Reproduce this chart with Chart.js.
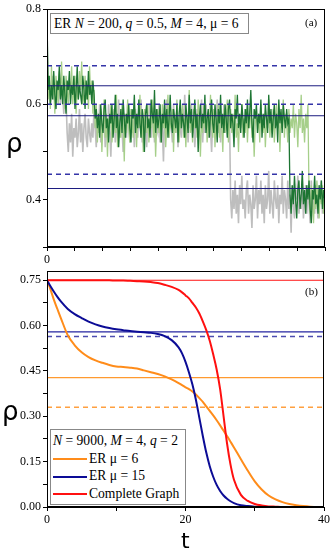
<!DOCTYPE html>
<html>
<head>
<meta charset="utf-8">
<script src="https://cdn.jsdelivr.net/npm/chart.js@4"></script>
<style>
  body { margin: 0; background: #fff; }
  #wrap { position: relative; width: 332px; height: 555px; overflow: hidden; font-family: 'Liberation Serif', serif; }
  canvas { position: absolute; left: 0; }
  .box { position: absolute; background: #fff; border: 1px solid #888; box-sizing: border-box; font-size: 13.6px; color: #000; }
  .lbl { position: absolute; font-size: 11px; color: #000; }
  .axt { position: absolute; font-family: 'DejaVu Sans', sans-serif; color: #000; }
  .row { height: 17.5px; line-height: 17.5px; white-space: nowrap; }
  .sw { display: inline-block; width: 34px; height: 2px; vertical-align: middle; margin: 0 2px 0 2px; }
</style>
</head>
<body>
<div id="wrap">
  <canvas id="chart_a" width="332" height="275" style="top:0"></canvas>
  <canvas id="chart_b" width="332" height="293" style="top:262px"></canvas>

  <div class="box" style="left:50px;top:13px;width:199px;height:21px;line-height:19px;padding-left:3px">ER <i>N</i> = 200, <i>q</i> = 0.5, <i>M</i> = 4, μ = 6</div>
  <div class="lbl" style="left:305px;top:16px">(a)</div>
  <div class="lbl" style="left:305px;top:285px">(b)</div>

  <div class="box" style="left:50px;top:429px;width:136px;height:76px;padding-top:2px">
    <div class="row" style="padding-left:2px"><i>N</i> = 9000, <i>M</i> = 4, <i>q</i> = 2</div>
    <div class="row"><span class="sw" style="background:#ff8c1a"></span>ER μ = 6</div>
    <div class="row"><span class="sw" style="background:#0c0c96"></span>ER μ = 15</div>
    <div class="row"><span class="sw" style="background:#ff1010"></span>Complete Graph</div>
  </div>

  <div class="axt" style="left:6px;top:128px;font-size:26px">ρ</div>
  <div class="axt" style="left:2px;top:396px;font-size:26px">ρ</div>
  <div class="axt" style="left:181px;top:528px;font-size:22px">t</div>
</div>

<script>
//--------------------------------------------------------------------------------
//--- Panel (a): ER N = 200 time series, one sample every 40 steps
//--------------------------------------------------------------------------------

var sampleStep = 40;

var darkGreen = [
    0.79, 0.63, 0.66, 0.60, 0.64, 0.61, 0.67, 0.62, 0.59, 0.65,
    0.63, 0.68, 0.61, 0.64, 0.60, 0.66, 0.62, 0.58, 0.65, 0.63,
    0.67, 0.60, 0.64, 0.62, 0.66, 0.59, 0.63, 0.68, 0.61, 0.64,
    0.62, 0.60, 0.66, 0.63, 0.59, 0.65, 0.61, 0.67, 0.62, 0.64,
    0.60, 0.65, 0.62, 0.57, 0.59, 0.55, 0.58, 0.53, 0.60, 0.56,
    0.54, 0.59, 0.61, 0.55, 0.57, 0.52, 0.58, 0.56, 0.60, 0.53,
    0.57, 0.62, 0.55, 0.58, 0.51, 0.56, 0.59, 0.54, 0.61, 0.57,
    0.53, 0.58, 0.56, 0.60, 0.55, 0.52, 0.59, 0.57, 0.62, 0.54,
    0.58, 0.55, 0.61, 0.56, 0.53, 0.59, 0.57, 0.50, 0.58, 0.60,
    0.55, 0.57, 0.53, 0.61, 0.58, 0.56, 0.63, 0.54, 0.59, 0.55,
    0.57, 0.60, 0.52, 0.58, 0.56, 0.61, 0.55, 0.59, 0.53, 0.57,
    0.62, 0.56, 0.54, 0.59, 0.57, 0.55, 0.60, 0.52, 0.58, 0.61,
    0.55, 0.58, 0.56, 0.53, 0.60, 0.57, 0.54, 0.62, 0.56, 0.59,
    0.53, 0.57, 0.61, 0.55, 0.58, 0.50, 0.57, 0.60, 0.55, 0.58,
    0.56, 0.62, 0.54, 0.57, 0.59, 0.53, 0.58, 0.61, 0.56, 0.54,
    0.60, 0.57, 0.52, 0.59, 0.56, 0.62, 0.55, 0.58, 0.54, 0.60,
    0.57, 0.53, 0.59, 0.61, 0.55, 0.58, 0.56, 0.51, 0.59, 0.57,
    0.62, 0.55, 0.58, 0.54, 0.60, 0.57, 0.53, 0.59, 0.56, 0.61,
    0.55, 0.58, 0.63, 0.56, 0.52, 0.59, 0.57, 0.60, 0.54, 0.58,
    0.56, 0.61, 0.53, 0.58, 0.55, 0.60, 0.57, 0.54, 0.62, 0.56,
    0.59, 0.53, 0.57, 0.60, 0.55, 0.58, 0.52, 0.61, 0.56, 0.59,
    0.54, 0.60, 0.57, 0.55, 0.59, 0.56, 0.57, 0.41, 0.37, 0.43,
    0.39, 0.45, 0.40, 0.36, 0.42, 0.44, 0.38, 0.41, 0.46, 0.39,
    0.42, 0.37, 0.43, 0.40, 0.44, 0.38, 0.35, 0.42, 0.40, 0.45,
    0.39, 0.41, 0.37, 0.43, 0.40, 0.44, 0.38, 0.42, 0.40];

var lightGreen = [
    0.75, 0.61, 0.65, 0.59, 0.68, 0.62, 0.64, 0.58, 0.66, 0.63,
    0.60, 0.67, 0.62, 0.69, 0.61, 0.64, 0.59, 0.66, 0.63, 0.60,
    0.65, 0.62, 0.68, 0.60, 0.63, 0.66, 0.58, 0.64, 0.61, 0.67,
    0.63, 0.69, 0.60, 0.62, 0.66, 0.61, 0.64, 0.59, 0.68, 0.62,
    0.65, 0.58, 0.63, 0.55, 0.60, 0.52, 0.57, 0.54, 0.59, 0.50,
    0.56, 0.61, 0.53, 0.58, 0.49, 0.57, 0.55, 0.60, 0.52, 0.56,
    0.59, 0.54, 0.62, 0.51, 0.57, 0.55, 0.53, 0.60, 0.56, 0.48,
    0.58, 0.54, 0.61, 0.55, 0.52, 0.59, 0.56, 0.53, 0.60, 0.57,
    0.51, 0.58, 0.55, 0.62, 0.53, 0.57, 0.50, 0.59, 0.56, 0.54,
    0.60, 0.52, 0.57, 0.55, 0.61, 0.53, 0.58, 0.49, 0.56, 0.59,
    0.54, 0.57, 0.52, 0.60, 0.55, 0.58, 0.51, 0.56, 0.62, 0.53,
    0.57, 0.55, 0.59, 0.50, 0.58, 0.54, 0.61, 0.56, 0.52, 0.59,
    0.55, 0.60, 0.53, 0.57, 0.51, 0.58, 0.56, 0.63, 0.54, 0.57,
    0.52, 0.59, 0.55, 0.58, 0.53, 0.61, 0.56, 0.49, 0.57, 0.54,
    0.60, 0.55, 0.58, 0.52, 0.57, 0.54, 0.62, 0.56, 0.53, 0.59,
    0.51, 0.57, 0.55, 0.60, 0.53, 0.58, 0.56, 0.50, 0.59, 0.54,
    0.57, 0.61, 0.52, 0.56, 0.59, 0.54, 0.58, 0.55, 0.62, 0.53,
    0.56, 0.50, 0.58, 0.55, 0.60, 0.53, 0.57, 0.54, 0.59, 0.52,
    0.58, 0.55, 0.61, 0.53, 0.57, 0.49, 0.56, 0.59, 0.54, 0.58,
    0.52, 0.60, 0.56, 0.54, 0.58, 0.51, 0.57, 0.55, 0.61, 0.53,
    0.57, 0.54, 0.59, 0.52, 0.56, 0.60, 0.55, 0.58, 0.50, 0.57,
    0.55, 0.61, 0.53, 0.58, 0.56, 0.52, 0.59, 0.54, 0.57, 0.55,
    0.60, 0.53, 0.58, 0.56, 0.51, 0.59, 0.55, 0.62, 0.54, 0.57,
    0.52, 0.58, 0.55, 0.60, 0.41, 0.37, 0.43, 0.39, 0.35, 0.42,
    0.38, 0.44, 0.40, 0.36, 0.42, 0.39, 0.43, 0.37, 0.41];

var grayRun = [
    0.75, 0.62, 0.65, 0.60, 0.63, 0.66, 0.61, 0.64, 0.59, 0.63,
    0.61, 0.65, 0.60, 0.64, 0.62, 0.58, 0.63, 0.61, 0.54, 0.50,
    0.56, 0.52, 0.58, 0.49, 0.55, 0.53, 0.57, 0.51, 0.54, 0.59,
    0.52, 0.56, 0.50, 0.55, 0.58, 0.53, 0.51, 0.57, 0.54, 0.52,
    0.56, 0.53, 0.59, 0.55, 0.51, 0.57, 0.54, 0.60, 0.52, 0.56,
    0.54, 0.58, 0.51, 0.56, 0.53, 0.60, 0.55, 0.49, 0.57, 0.54,
    0.59, 0.52, 0.56, 0.54, 0.61, 0.53, 0.57, 0.55, 0.50, 0.58,
    0.55, 0.53, 0.60, 0.56, 0.52, 0.58, 0.54, 0.57, 0.51, 0.59,
    0.56, 0.53, 0.58, 0.55, 0.61, 0.52, 0.57, 0.54, 0.59, 0.51,
    0.57, 0.55, 0.60, 0.53, 0.56, 0.58, 0.52, 0.59, 0.55, 0.54,
    0.60, 0.52, 0.57, 0.55, 0.48, 0.58, 0.54, 0.61, 0.56, 0.53,
    0.58, 0.55, 0.52, 0.60, 0.56, 0.54, 0.59, 0.51, 0.57, 0.55,
    0.53, 0.59, 0.56, 0.62, 0.54, 0.57, 0.52, 0.58, 0.55, 0.60,
    0.54, 0.57, 0.51, 0.56, 0.59, 0.53, 0.58, 0.55, 0.61, 0.52,
    0.57, 0.54, 0.60, 0.56, 0.53, 0.58, 0.55, 0.50, 0.57, 0.59,
    0.53, 0.56, 0.61, 0.54, 0.58, 0.52, 0.57, 0.55, 0.60, 0.54,
    0.56, 0.59, 0.53, 0.57, 0.40, 0.36, 0.42, 0.38, 0.44, 0.37,
    0.41, 0.35, 0.43, 0.39, 0.45, 0.38, 0.40, 0.36, 0.42, 0.44,
    0.37, 0.41, 0.39, 0.34, 0.43, 0.38, 0.40, 0.45, 0.36, 0.42,
    0.39, 0.44, 0.37, 0.41, 0.35, 0.43, 0.38, 0.40, 0.46, 0.37,
    0.42, 0.39, 0.36, 0.44, 0.40, 0.38, 0.43, 0.35, 0.41, 0.39,
    0.45, 0.37, 0.42, 0.40, 0.36, 0.44, 0.38, 0.41, 0.33, 0.43,
    0.39, 0.36, 0.42, 0.40, 0.45, 0.37, 0.41, 0.38, 0.44, 0.36,
    0.40, 0.43, 0.37, 0.42, 0.39, 0.35, 0.44, 0.38, 0.41, 0.37,
    0.43, 0.39, 0.36, 0.42, 0.40, 0.44, 0.37, 0.41, 0.39];

// horizontal reference levels in (a)
var levelsSolidA = [0.639, 0.576, 0.423];
var levelsDashedA = [0.681, 0.600, 0.453];

//--------------------------------------------------------------------------------
//--- Panel (b): N = 9000 mean curves
//--------------------------------------------------------------------------------

var tGrid = [0, 0.5, 1, 1.5, 2, 3, 4, 5, 6, 7,
    8, 9, 10, 11, 12, 13, 14, 15, 16, 17,
    18, 19, 19.5, 20, 20.5, 21, 21.5, 22, 22.5, 23,
    23.5, 24, 24.5, 25, 25.5, 26, 26.5, 27, 28, 29,
    30, 31, 32, 33, 34, 35, 36, 37, 38, 40];

var erMu6 = [0.75, 0.72, 0.685, 0.655, 0.625, 0.568, 0.535, 0.512, 0.496, 0.485,
    0.477, 0.470, 0.465, 0.463, 0.461, 0.458, 0.452, 0.446, 0.440, 0.432,
    0.422, 0.410, 0.403, 0.396, 0.390, 0.382, 0.372, 0.360, 0.348, 0.333,
    0.318, 0.303, 0.287, 0.270, 0.252, 0.235, 0.216, 0.197, 0.158, 0.120,
    0.085, 0.058, 0.038, 0.025, 0.016, 0.010, 0.006, 0.003, 0.001, 0];

var erMu15 = [0.75, 0.73, 0.712, 0.695, 0.680, 0.655, 0.638, 0.625, 0.613, 0.604,
    0.597, 0.592, 0.588, 0.585, 0.582, 0.580, 0.578, 0.576, 0.572, 0.565,
    0.552, 0.528, 0.508, 0.480, 0.445, 0.405, 0.355, 0.295, 0.235, 0.180,
    0.135, 0.100, 0.073, 0.053, 0.038, 0.027, 0.019, 0.013, 0.006, 0.003,
    0.001, 0, 0, 0, 0, 0, 0, 0, 0, 0];

var completeGraph = [0.75, 0.75, 0.75, 0.75, 0.75, 0.75, 0.75, 0.75, 0.75, 0.75,
    0.75, 0.75, 0.749, 0.749, 0.748, 0.747, 0.746, 0.744, 0.741, 0.735,
    0.728, 0.718, 0.710, 0.700, 0.690, 0.675, 0.660, 0.640, 0.614, 0.585,
    0.550, 0.505, 0.455, 0.390, 0.300, 0.210, 0.140, 0.090, 0.040, 0.020,
    0.010, 0.005, 0.002, 0.001, 0, 0, 0, 0, 0, 0];

// steady-state levels in (b): solid and dashed, per curve
var levelsB = {mu6: [0.428, 0.330], mu15: [0.579, 0.564], complete: [0.75]};

//--------------------------------------------------------------------------------
//--- helpers
//--------------------------------------------------------------------------------

var tickFont = {family: 'Liberation Serif', size: 12};

function series(values, step) {
    return values.map(function (v, i) { return {x: i * step, y: v}; });
}
function curve(values) {
    return values.map(function (v, i) { return {x: tGrid[i], y: v}; });
}
function level(y, x0, x1, color, dashed, width) {
    return {data: [{x: x0, y: y}, {x: x1, y: y}], borderColor: color,
            borderWidth: width || 1, borderDash: dashed ? [5, 4] : [], pointRadius: 0};
}

// full black frame around the plot area
var framePlugin = {
    id: 'frame',
    afterDraw: function (chart) {
        var a = chart.chartArea, c = chart.ctx;
        c.save();
        c.strokeStyle = '#000'; c.lineWidth = 1;
        c.strokeRect(Math.round(a.left) + 0.5, Math.round(a.top) + 0.5,
                     Math.round(a.right - a.left) - 1, Math.round(a.bottom - a.top) - 1);
        c.restore();
    }
};

function axis(min, max, step, label, extra) {
    var ax = {
        type: 'linear', min: min, max: max,
        grid: {drawOnChartArea: false, color: '#000', tickColor: '#000', tickLength: 4},
        border: {color: '#000'},
        ticks: {stepSize: step, autoSkip: false, maxRotation: 0, includeBounds: false,
                color: '#000', font: tickFont, padding: 2, callback: label}
    };
    return Object.assign(ax, extra);
}

//----------------------------------------
//--- Chart (a)
//----------------------------------------

var xMaxA = 9930;
var datasetsA = [];
levelsSolidA.forEach(function (y) { datasetsA.push(level(y, 0, xMaxA, '#1c1c80', false, 1)); });
levelsDashedA.forEach(function (y) { datasetsA.push(level(y, 0, xMaxA, '#3434a8', true, 1.4)); });
datasetsA.push({data: series(darkGreen, sampleStep), borderColor: '#1d7533', borderWidth: 1.3, pointRadius: 0});
datasetsA.push({data: series(lightGreen, sampleStep), borderColor: '#a6cf8a', borderWidth: 1.3, pointRadius: 0});
datasetsA.push({data: series(grayRun, sampleStep), borderColor: '#bebebe', borderWidth: 1.6, pointRadius: 0});

new Chart(document.getElementById('chart_a').getContext('2d'), {
    type: 'line',
    data: {datasets: datasetsA},
    options: {
        responsive: false, animation: false, devicePixelRatio: 1,
        layout: {padding: {left: 0, right: 7, top: 9, bottom: 8}},
        plugins: {legend: {display: false}, tooltip: {enabled: false}},
        scales: {
            x: axis(0, xMaxA, 1000, function (v) { return v % 2000 === 0 ? String(v) : ''; },
                    {afterFit: function (s) { s.height = 20; }}),
            y: axis(0.3, 0.8, 0.1, function (v) {
                    var k = Math.round(v * 10);
                    return (k % 2 === 0 && k >= 4) ? (k / 10).toFixed(1) : '';
                }, {afterFit: function (s) { s.width = 47; }})
        }
    },
    plugins: [framePlugin]
});

//----------------------------------------
//--- Chart (b)
//----------------------------------------

var datasetsB = [
    {data: curve(completeGraph), borderColor: '#ff1010', borderWidth: 2, pointRadius: 0, cubicInterpolationMode: 'monotone'},
    {data: curve(erMu15), borderColor: '#0c0c96', borderWidth: 2, pointRadius: 0, cubicInterpolationMode: 'monotone'},
    {data: curve(erMu6), borderColor: '#ff8c1a', borderWidth: 2, pointRadius: 0, cubicInterpolationMode: 'monotone'},
    level(levelsB.complete[0], 0, 40, '#ff1010', false, 1.2),
    level(levelsB.mu15[0], 0, 40, '#2424a0', false, 1.2),
    level(levelsB.mu15[1], 0, 40, '#4c4cb0', true, 1.5),
    level(levelsB.mu6[0], 0, 40, '#ff9a30', false, 1.2),
    level(levelsB.mu6[1], 0, 40, '#ffa040', true, 1.5)
];

new Chart(document.getElementById('chart_b').getContext('2d'), {
    type: 'line',
    data: {datasets: datasetsB},
    options: {
        responsive: false, animation: false, devicePixelRatio: 1,
        layout: {padding: {left: 0, right: 7, top: 7, bottom: 28}},
        plugins: {legend: {display: false}, tooltip: {enabled: false}},
        scales: {
            x: axis(0, 40, 10, function (v) { return v % 20 === 0 ? String(v) : ''; },
                    {afterFit: function (s) { s.height = 20; }}),
            y: axis(0, 0.78, 0.075, function (v) {
                    var k = Math.round(v / 0.075);
                    return k % 2 === 0 ? (k * 0.075).toFixed(2) : '';
                }, {afterFit: function (s) { s.width = 47; }})
        }
    },
    plugins: [framePlugin]
});
</script>
</body>
</html>
